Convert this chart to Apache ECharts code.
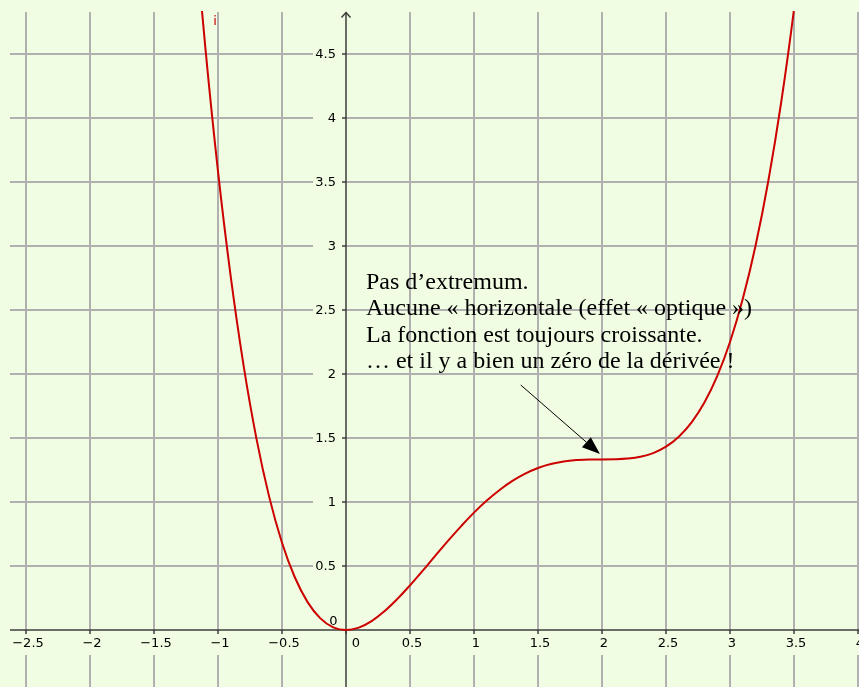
<!DOCTYPE html>
<html>
<head>
<meta charset="utf-8">
<script src="https://cdn.jsdelivr.net/npm/echarts@6/dist/echarts.min.js"></script>
<style>
html,body{margin:0;padding:0;background:#f0fde2;}
#c{width:859px;height:687px;}
</style>
</head>
<body>
<div id="c"></div>
<script>
// ---- data ----
const xTicks = [-2.5, -2, -1.5, -1, -0.5, 0, 0.5, 1, 1.5, 2, 2.5, 3, 3.5, 4];
const xTickLabels = ['−2.5', '−2', '−1.5', '−1', '−0.5', '0', '0.5', '1', '1.5', '2', '2.5', '3', '3.5', '4'];
const yTicks = [0.5, 1, 1.5, 2, 2.5, 3, 3.5, 4, 4.5];
const yTickLabels = ['0.5', '1', '1.5', '2', '2.5', '3', '3.5', '4', '4.5'];
const yZeroLabel = '0';

const curveX = [-1.2, -1.1, -1.0, -0.9, -0.8, -0.7, -0.6, -0.5, -0.4, -0.3, -0.2, -0.1, 0,
  0.1, 0.2, 0.3, 0.4, 0.5, 0.6, 0.7, 0.8, 0.9, 1.0, 1.1, 1.2, 1.3, 1.4, 1.5, 1.6, 1.7, 1.8, 1.9, 2.0,
  2.1, 2.2, 2.3, 2.4, 2.5, 2.6, 2.7, 2.8, 2.9, 3.0, 3.1, 3.2, 3.3, 3.4, 3.5, 3.6];
const curveY = [5.70, 4.561, 3.583, 2.756, 2.065, 1.497, 1.040, 0.682, 0.412, 0.218, 0.091, 0.021, 0,
  0.019, 0.070, 0.146, 0.241, 0.349, 0.464, 0.583, 0.700, 0.812, 0.917, 1.011, 1.094, 1.165, 1.222, 1.266, 1.297, 1.317, 1.328, 1.333, 1.333,
  1.334, 1.339, 1.353, 1.382, 1.432, 1.510, 1.622, 1.777, 1.983, 2.250, 2.587, 3.004, 3.512, 4.123, 4.849, 5.70];

const noteLines = [
  'Pas d’extremum.',
  'Aucune « horizontale (effet « optique »)',
  'La fonction est toujours croissante.',
  '… et il y a bien un zéro de la dérivée !'
];
const noteAnchor = [0.156, 2.818];
const arrowFrom = [1.365, 1.914];
const arrowTo = [1.984, 1.375];
const curveTag = 'i';
const curveTagAt = [-1.023, 4.75];

// ---- chart ----
const GRID = '#b0b0b0';
const AXIS = '#3c3c3c';
const LABEL_FONT = '13px "DejaVu Sans"';
const chart = echarts.init(document.getElementById('c'));

const option = {
  backgroundColor: '#f0fde2',
  animation: false,
  grid: { left: 10, top: 12, right: 0, bottom: 0, containLabel: false },
  xAxis: { type: 'value', min: -2.625, max: 4.0078, show: false },
  yAxis: { type: 'value', min: -0.4453, max: 4.8281, show: false },
  series: [
    {
      type: 'custom', name: 'vgrid', z: 1, silent: true,
      data: xTicks.map((v, i) => [v, i]),
      renderItem: function (params, api) {
        const v = api.value(0);
        if (v === 0) return null;
        const p = api.coord([v, 0]);
        const cs = params.coordSys;
        return {
          type: 'group',
          children: [
            { type: 'line', shape: { x1: p[0], y1: cs.y, x2: p[0], y2: p[1] }, style: { stroke: GRID, lineWidth: 2 } },
            { type: 'line', shape: { x1: p[0], y1: p[1] + 25, x2: p[0], y2: cs.y + cs.height }, style: { stroke: GRID, lineWidth: 2 } }
          ]
        };
      }
    },
    {
      type: 'custom', name: 'hgrid', z: 1, silent: true,
      data: yTicks.map((v, i) => [0, v, i]),
      renderItem: function (params, api) {
        const v = api.value(1);
        const p = api.coord([0, v]);
        const cs = params.coordSys;
        return {
          type: 'group',
          children: [
            { type: 'line', shape: { x1: cs.x, y1: p[1], x2: p[0] - 33, y2: p[1] }, style: { stroke: GRID, lineWidth: 2 } },
            { type: 'line', shape: { x1: p[0], y1: p[1], x2: cs.x + cs.width, y2: p[1] }, style: { stroke: GRID, lineWidth: 2 } }
          ]
        };
      }
    },
    {
      type: 'custom', name: 'axes', z: 3, silent: true,
      data: [[0, 0]],
      renderItem: function (params, api) {
        const o = api.coord([0, 0]);
        const cs = params.coordSys;
        const ch = [
          { type: 'line', shape: { x1: cs.x, y1: o[1], x2: cs.x + cs.width, y2: o[1] }, style: { stroke: AXIS, lineWidth: 1.5 } },
          { type: 'line', shape: { x1: o[0], y1: cs.y, x2: o[0], y2: cs.y + cs.height }, style: { stroke: AXIS, lineWidth: 1.5 } },
          { type: 'polyline', shape: { points: [[o[0] - 4.5, cs.y + 5.5], [o[0], cs.y + 0.5], [o[0] + 4.5, cs.y + 5.5]] }, style: { stroke: AXIS, lineWidth: 1.5, fill: null } }
        ];
        xTicks.forEach(function (v) {
          const p = api.coord([v, 0]);
          ch.push({ type: 'line', shape: { x1: p[0], y1: o[1], x2: p[0], y2: o[1] + 4 }, style: { stroke: AXIS, lineWidth: 1.5 } });
        });
        yTicks.forEach(function (v) {
          const p = api.coord([0, v]);
          ch.push({ type: 'line', shape: { x1: o[0] - 4, y1: p[1], x2: o[0], y2: p[1] }, style: { stroke: AXIS, lineWidth: 1.5 } });
        });
        return { type: 'group', children: ch };
      }
    },
    {
      type: 'custom', name: 'xlabels', z: 4, silent: true,
      data: xTicks.map((v, i) => [v, i]),
      renderItem: function (params, api) {
        const v = api.value(0);
        const i = api.value(1);
        const p = api.coord([v, 0]);
        return {
          type: 'text',
          style: {
            text: xTickLabels[i], x: v === 0 ? p[0] + 10 : p[0] + 2, y: p[1] + 13.5,
            align: 'center', verticalAlign: 'middle', fill: '#000', font: LABEL_FONT
          }
        };
      }
    },
    {
      type: 'custom', name: 'ylabels', z: 4, silent: true,
      data: yTicks.map((v, i) => [0, v, i]),
      renderItem: function (params, api) {
        const v = api.value(1);
        const i = api.value(2);
        const p = api.coord([0, v]);
        return {
          type: 'text',
          style: {
            text: yTickLabels[i], x: p[0] - 10, y: p[1] + 1,
            align: 'right', verticalAlign: 'middle', fill: '#000', font: LABEL_FONT
          }
        };
      }
    },
    {
      type: 'custom', name: 'yzero', z: 4, silent: true,
      data: [[0, 0]],
      renderItem: function (params, api) {
        const p = api.coord([0, 0]);
        return {
          type: 'text',
          style: { text: yZeroLabel, x: p[0] - 12.5, y: p[1] - 8, align: 'center', verticalAlign: 'middle', fill: '#000', font: LABEL_FONT }
        };
      }
    },
    {
      type: 'line', name: 'f', z: 5, silent: true,
      data: curveX.map((x, i) => [x, curveY[i]]),
      smooth: 0.4, symbol: 'none', clip: true,
      lineStyle: { color: '#cc0000', width: 2 }
    },
    {
      type: 'custom', name: 'note', z: 6, silent: true,
      data: [[noteAnchor[0], noteAnchor[1]]],
      renderItem: function (params, api) {
        const p = api.coord([api.value(0), api.value(1)]);
        const a = api.coord(arrowFrom);
        const b = api.coord(arrowTo);
        const dx = b[0] - a[0], dy = b[1] - a[1];
        const L = Math.sqrt(dx * dx + dy * dy);
        const ux = dx / L, uy = dy / L;
        const hl = 18, hw = 6.7;
        const bx = b[0] - ux * hl, by = b[1] - uy * hl;
        const t = api.coord(curveTagAt);
        return {
          type: 'group',
          children: [
            {
              type: 'text',
              style: {
                text: noteLines.join('\n'), x: p[0], y: p[1],
                align: 'left', verticalAlign: 'top', fill: '#000',
                font: '24px "Liberation Serif"', lineHeight: 26.5
              }
            },
            { type: 'line', shape: { x1: a[0], y1: a[1], x2: bx, y2: by }, style: { stroke: '#000', lineWidth: 1 } },
            { type: 'polygon', shape: { points: [[b[0], b[1]], [bx - uy * hw, by + ux * hw], [bx + uy * hw, by - ux * hw]] }, style: { fill: '#000' } },
            { type: 'text', style: { text: curveTag, x: t[0], y: t[1], align: 'center', verticalAlign: 'middle', fill: '#cc0000', font: '13px "DejaVu Sans"' } }
          ]
        };
      }
    }
  ]
};
chart.setOption(option);
</script>
</body>
</html>
